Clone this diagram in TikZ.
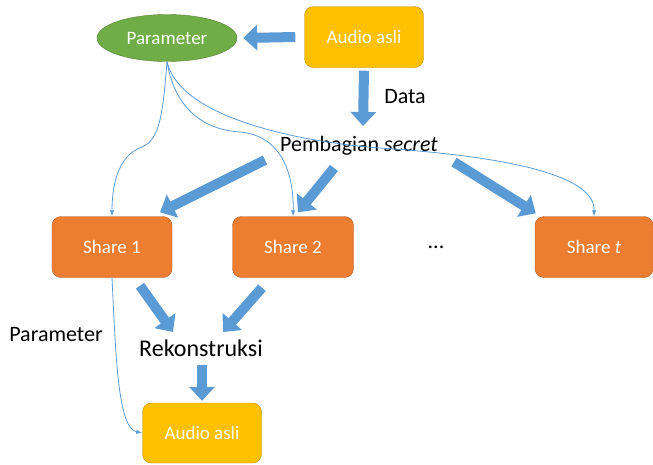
\documentclass[tikz,border=0pt]{standalone}
\usepackage{fontspec}
\setmainfont{Carlito}
\usepackage{tikz}
\usetikzlibrary{arrows.meta,shapes.geometric}
\definecolor{fatblue}{HTML}{5B9BD5}
\definecolor{fatedge}{HTML}{41719C}
\definecolor{gold}{HTML}{FFC000}
\definecolor{goldedge}{HTML}{BC8C00}
\definecolor{orng}{HTML}{ED7D31}
\definecolor{orngedge}{HTML}{AE5A21}
\definecolor{grn}{HTML}{70AD47}
\definecolor{grnedge}{HTML}{507E32}

\begin{document}
\begin{tikzpicture}[x=1pt,y=-1pt,
  box/.style={draw,rounded corners=9pt,align=center,minimum width=119pt,minimum height=61pt,inner sep=0pt,text=white,font=\fontsize{19}{22}\selectfont},
  audiobox/.style={box,fill=gold,draw=goldedge},
  sharebox/.style={box,fill=orng,draw=orngedge},
  lbl/.style={inner sep=0pt,font=\fontsize{22}{26}\selectfont},
  fat/.style={fatblue,line width=10pt,-{Triangle[width=25pt,length=14pt]}},
  thin/.style={fatblue,line width=0.8pt,-{Latex[length=6pt,width=4.5pt]}}]
\useasboundingbox (0,0) rectangle (653,464);
\node[ellipse,draw=grnedge,fill=grn,text=white,minimum width=140pt,minimum height=47pt,inner sep=0pt,font=\fontsize{19}{22}\selectfont] (param) at (167,38) {Parameter};
\node[audiobox] (audio) at (364,37) {Audio asli};
\node[lbl] (data) at (405,97) {Data};
\node[lbl] (pembagian) at (359,146) {Pembagian \textit{secret}};
\node[sharebox,minimum width=120pt] (share1) at (112,247) {Share 1};
\node[sharebox,minimum width=121pt] (share2) at (293,247) {Share 2};
\node[lbl] (dots) at (436,247) {...};
\node[sharebox,minimum width=118pt] (sharet) at (594,247) {Share \textit{t}};
\node[lbl,font=\fontsize{24}{28}\selectfont] (rekon) at (201,348) {Rekonstruksi};
\node[lbl] (paramlbl) at (56,335) {Parameter};
\node[audiobox,minimum height=60pt] (audioout) at (202,433) {Audio asli};
% fat arrows
\draw[fat] ([xshift=-9pt]audio.west) -- ([xshift=6pt]param.east);
\draw[fat] ([yshift=-3pt]audio.south) -- ([xshift=4pt,yshift=20pt]pembagian.center);
\draw[fat] ([xshift=-94pt,yshift=-14pt]pembagian.center) -- ([xshift=48pt,yshift=4pt]share1.north);
\draw[fat] ([xshift=-25pt,yshift=-22pt]pembagian.center) -- ([xshift=5pt,yshift=4pt]share2.north);
\draw[fat] ([xshift=95pt,yshift=-16pt]pembagian.center) -- ([xshift=1pt,yshift=3pt]sharet.north west);
\draw[fat] ([xshift=28pt,yshift=-8pt]share1.south) -- ([xshift=-28pt,yshift=16pt]rekon.center);
\draw[fat] ([xshift=-31pt,yshift=-10pt]share2.south) -- ([xshift=22pt,yshift=16pt]rekon.center);
\draw[fat] ([xshift=1pt,yshift=-17pt]rekon.center) -- ([yshift=2pt]audioout.north);
% thin parameter lines
\draw[thin] (param.south) .. controls (163,112) and (160,140) .. (142,147) .. controls (116,156) and (112,190) .. (share1.north);
\draw[thin] (param.south) .. controls (175,110) and (205,130) .. (240,132) .. controls (285,136) and (294,180) .. (share2.north);
\draw[thin] (param.south) .. controls (180,118) and (300,142) .. (380,148) .. controls (530,158) and (595,180) .. (sharet.north);
\draw[thin] (share1.south) .. controls (116,360) and (118,428) .. (audioout.west);
\end{tikzpicture}
\end{document}
